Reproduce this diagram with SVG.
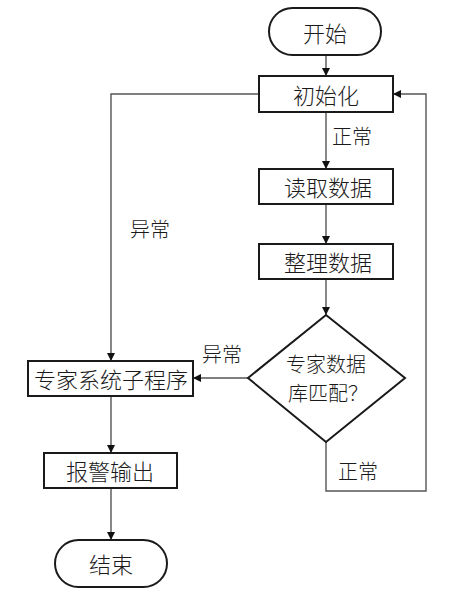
<svg xmlns="http://www.w3.org/2000/svg" width="450" height="594" viewBox="0 0 450 594">
<style>
.box{fill:#fff;stroke:#1a1a1a;stroke-width:2}
.ln{fill:none;stroke:#555;stroke-width:1.4}
text{font-family:"Noto Sans CJK SC","Noto Sans CJK JP",sans-serif;font-weight:300;fill:#1a1a1a;text-anchor:middle;dominant-baseline:central}
.t{font-size:22px}
.d{font-size:20px}
.l{font-size:20px;text-anchor:start}
</style>
<defs>
<marker id="ah" viewBox="0 0 10 10" refX="10" refY="5" markerWidth="8" markerHeight="8" markerUnits="userSpaceOnUse" orient="auto">
<path d="M0,0 L10,5 L0,10 z" fill="#111"/>
</marker>
</defs>
<rect width="450" height="594" fill="#fff"/>
<g id="connectors">
<line class="ln" x1="326" y1="55" x2="326" y2="76" marker-end="url(#ah)"/>
<line class="ln" x1="326" y1="112" x2="326" y2="169" marker-end="url(#ah)"/>
<line class="ln" x1="326" y1="204" x2="326" y2="244" marker-end="url(#ah)"/>
<line class="ln" x1="326" y1="279" x2="326" y2="315" marker-end="url(#ah)"/>
<polyline class="ln" points="259,94 111,94 111,361" marker-end="url(#ah)"/>
<line class="ln" x1="248" y1="378" x2="193" y2="378" marker-end="url(#ah)"/>
<polyline class="ln" points="326,442 326,491 426,491 426,94 393,94" marker-end="url(#ah)"/>
<line class="ln" x1="111" y1="396" x2="111" y2="453" marker-end="url(#ah)"/>
<line class="ln" x1="111" y1="488" x2="111" y2="540" marker-end="url(#ah)"/>
<text class="l" x="332" y="135">正常</text>
<text class="l" x="130" y="228">异常</text>
<text class="l" x="202" y="353">异常</text>
<text class="l" x="338" y="470">正常</text>
</g>
<g id="start">
<rect class="box" x="269" y="8" width="112" height="47" rx="23.5"/>
<text class="t" x="325" y="32">开始</text>
</g>
<g id="init">
<rect class="box" x="259" y="76" width="134" height="36"/>
<text class="t" x="326" y="94">初始化</text>
</g>
<g id="read">
<rect class="box" x="259" y="169" width="134" height="35"/>
<text class="t" x="328" y="186">读取数据</text>
</g>
<g id="sort">
<rect class="box" x="259" y="244" width="134" height="35"/>
<text class="t" x="328" y="261">整理数据</text>
</g>
<g id="decision">
<polygon class="box" points="326,315 405,378 326,442 248,378"/>
<text class="d" x="326" y="363">专家数据</text>
<text class="d" x="328" y="392">库匹配？</text>
</g>
<g id="expert">
<rect class="box" x="28" y="361" width="165" height="35"/>
<text class="t" x="111" y="378">专家系统子程序</text>
</g>
<g id="alarm">
<rect class="box" x="44" y="453" width="133" height="35"/>
<text class="t" x="110" y="470">报警输出</text>
</g>
<g id="end">
<rect class="box" x="55" y="540" width="112" height="47" rx="23.5"/>
<text class="t" x="111" y="563">结束</text>
</g>
</svg>
